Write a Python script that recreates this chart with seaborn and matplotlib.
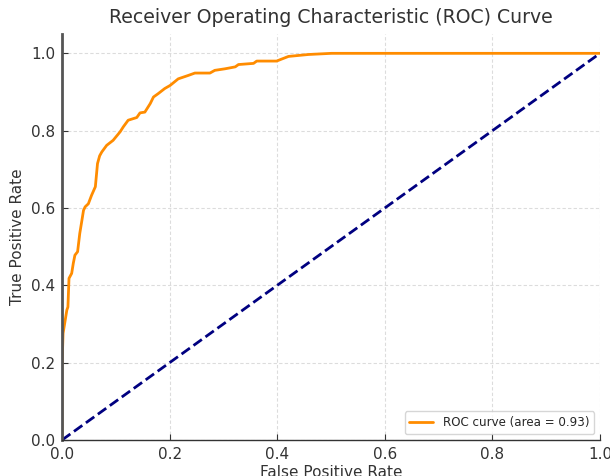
import matplotlib
matplotlib.use("Agg")
import matplotlib.pyplot as plt
import seaborn as sns
import pandas as pd

fpr = [0.0, 0.0, 0.0, 0.002, 0.009, 0.011, 0.013, 0.018, 0.021, 0.024,
       0.029, 0.033, 0.037, 0.040, 0.043, 0.049, 0.055, 0.062, 0.066, 0.070,
       0.074, 0.083, 0.095, 0.108, 0.114, 0.123, 0.139, 0.145, 0.154, 0.164,
       0.170, 0.179, 0.191, 0.201, 0.216, 0.235, 0.247, 0.275, 0.284, 0.303,
       0.322, 0.328, 0.356, 0.362, 0.399, 0.408, 0.421, 0.458, 0.501, 1.0]
tpr = [0.0, 0.08, 0.19, 0.276, 0.336, 0.344, 0.418, 0.431, 0.457, 0.478,
       0.487, 0.534, 0.568, 0.594, 0.603, 0.611, 0.633, 0.655, 0.715, 0.735,
       0.745, 0.762, 0.775, 0.797, 0.81, 0.827, 0.834, 0.846, 0.848, 0.87,
       0.887, 0.896, 0.909, 0.917, 0.934, 0.943, 0.949, 0.949, 0.956, 0.96,
       0.965, 0.971, 0.974, 0.98, 0.98, 0.985, 0.992, 0.997, 1.0, 1.0]
chance_x = [0.0, 1.0]
chance_y = [0.0, 1.0]
roc_auc = 0.93

sns.set_theme(style="white")
fig = plt.figure(figsize=(6.1, 4.76), dpi=100)
ax = fig.add_axes([62/610, 1-440/476, 538/610, 406/476])

roc_df = pd.DataFrame({"fpr": fpr, "tpr": tpr})
sns.lineplot(data=roc_df, x="fpr", y="tpr", sort=False, estimator=None,
             color="darkorange", lw=2, label=f"ROC curve (area = {roc_auc:.2f})", ax=ax)
sns.lineplot(x=chance_x, y=chance_y, sort=False, estimator=None,
             color="navy", lw=2, linestyle="--", ax=ax)

ax.set_xlim(0.0, 1.0)
ax.set_ylim(0.0, 1.05)
ax.set_xticks([0.0, 0.2, 0.4, 0.6, 0.8, 1.0])
ax.set_yticks([0.0, 0.2, 0.4, 0.6, 0.8, 1.0])
ax.grid(True, linestyle=(0, (3, 2)), color="#dcdcdc", linewidth=0.8)
ax.set_axisbelow(True)

for s in ["top", "right"]:
    ax.spines[s].set_visible(False)
ax.spines["left"].set_color("#555555")
ax.spines["left"].set_linewidth(2.0)
ax.spines["bottom"].set_color("#333333")
ax.spines["bottom"].set_linewidth(1.0)

ax.tick_params(axis="both", direction="in", length=4, width=0.8, color="#333333",
               labelsize=11, labelcolor="#333333", bottom=True, left=True, pad=5)
ax.set_xlabel("False Positive Rate", fontsize=11, color="#333333", labelpad=2)
ax.set_ylabel("True Positive Rate", fontsize=11, color="#333333", labelpad=4)
ax.set_title("Receiver Operating Characteristic (ROC) Curve", fontsize=13.6, color="#333333", pad=8)
ax.legend(loc="lower right", fontsize=8.6, frameon=True, fancybox=True, framealpha=0.8,
          edgecolor="#cccccc")

fig.savefig("out.png", dpi=100)
